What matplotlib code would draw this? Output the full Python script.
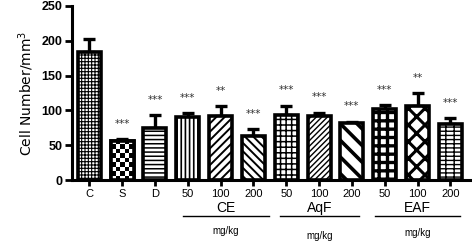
import matplotlib.pyplot as plt
import numpy as np

labels = ['C', 'S', 'D', '50', '100', '200', '50', '100', '200', '50', '100', '200']
means = [184, 57, 75, 90, 92, 64, 93, 92, 82, 102, 106, 80]
errs = [19, 2, 18, 6, 14, 9, 14, 5, 2, 6, 19, 9]
stars = ['', '***', '***', '***', '**', '***', '***', '***', '***', '***', '**', '***']
hatches = ['+++++', '', '----', '||||', '////', '\\\\\\\\', '+++', '//////', '\\\\', '++', 'xx', '----||']
hatch_lw = [0.8, 1, 1.1, 1.2, 1.4, 1.4, 1.1, 1.0, 2.6, 2.4, 2.2, 1.0]
groups = ['CE', 'AqF', 'EAF']
group_spans = [(2.84, 5.46), (5.82, 8.23), (8.69, 11.3)]

fig = plt.figure(figsize=(4.72, 2.42), dpi=100)
ax = fig.add_axes([0.153, 0.255, 0.843, 0.721])

x = np.arange(len(labels))
bars = []
for xi, m, h, lw in zip(x, means, hatches, hatch_lw):
    with plt.rc_context({'hatch.linewidth': lw}):
        b = ax.bar(xi, m, width=0.7, color='white', edgecolor='black',
                   linewidth=2.6, hatch=h, zorder=2)[0]
    bars.append(b)

# checkerboard texture for S bar
sb = bars[1]
ncol, nrow = 5, 9
checker = np.indices((nrow, ncol)).sum(axis=0) % 2
ax.imshow(checker, cmap='gray_r', vmin=0, vmax=1, interpolation='nearest',
          extent=[sb.get_x(), sb.get_x() + sb.get_width(), 0, sb.get_height()],
          aspect='auto', zorder=2.5, clip_path=sb, clip_on=True)
ax.bar(1, means[1], width=0.7, color='none', edgecolor='black', linewidth=2.6, zorder=3)

ax.errorbar(x, means, yerr=[np.zeros(len(errs)), errs], fmt='none', ecolor='black',
            elinewidth=2.4, capsize=4.5, capthick=2.4, zorder=1)

for xi, m, e, s in zip(x, means, errs, stars):
    if s:
        ax.text(xi, m + e + 22, s, ha='center', va='center', fontsize=7.5,
                color='#333333', family='DejaVu Sans')

ax.set_xlim(-0.52, 11.6)
ax.set_ylim(0, 250)
ax.set_yticks([0, 50, 100, 150, 200, 250])
ax.set_xticks(x)
ax.set_xticklabels(labels, fontsize=8, family='Liberation Sans')
for t in ax.get_yticklabels():
    t.set_fontsize(9)
    t.set_fontweight('bold')
    t.set_family('Liberation Sans')
ax.set_ylabel('Cell Number/mm$^3$', fontsize=10, family='Liberation Sans Narrow', labelpad=4)

for side in ['top', 'right']:
    ax.spines[side].set_visible(False)
for side in ['left', 'bottom']:
    ax.spines[side].set_linewidth(2.2)
ax.tick_params(axis='both', width=2, length=5, direction='out', pad=2)
ax.tick_params(axis='x', length=4)

tr = ax.get_xaxis_transform()
mg_y = [-0.29, -0.319, -0.30]
for g, (a, b), my in zip(groups, group_spans, mg_y):
    mid = (a + b) / 2
    ax.text(mid, -0.159, g, transform=tr, ha='center', va='center', fontsize=10,
            family='Liberation Sans')
    ax.plot([a, b], [-0.204, -0.204], transform=tr, color='black', lw=1,
            clip_on=False)
    ax.text(mid, my, 'mg/kg', transform=tr, ha='center', va='center', fontsize=7,
            family='Liberation Sans')

fig.savefig('out.png', dpi=100)
